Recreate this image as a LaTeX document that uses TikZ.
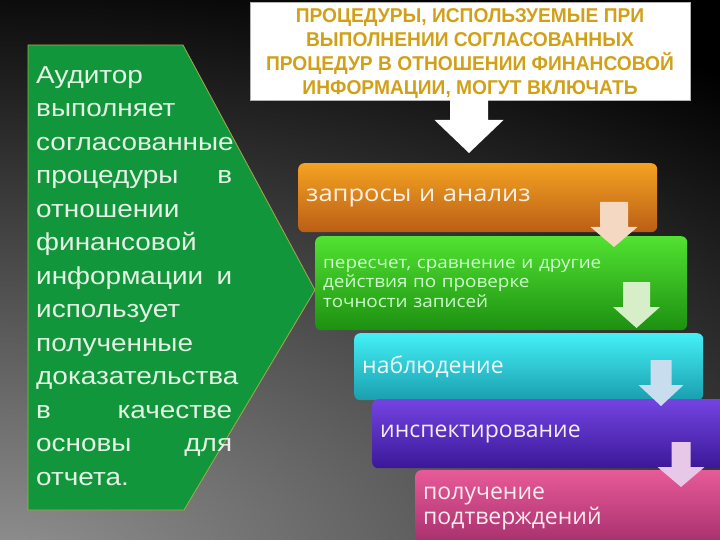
\documentclass[tikz,border=0pt]{standalone}
\usepackage{fontspec}
\setmainfont{Liberation Sans}
\newfontfamily\auditfont[FakeStretch=1.14]{Liberation Sans}
\newfontfamily\headfont[FakeStretch=0.96]{Liberation Sans}
\newfontfamily\boxfont{Open Sans}
\newfontfamily\boxwidefont[FakeStretch=1.11]{Open Sans}
\definecolor{auditgreen}{HTML}{12963C}
\definecolor{auditedge}{HTML}{A8A848}
\definecolor{audittext}{HTML}{E4F2E4}
\definecolor{titlegold}{HTML}{D2A017}
\definecolor{orangetop}{HTML}{F4A322}
\definecolor{orangebot}{HTML}{BA5E16}
\definecolor{greentop}{HTML}{52E232}
\definecolor{greenbot}{HTML}{1C9010}
\definecolor{cyantop}{HTML}{44F0F6}
\definecolor{cyanbot}{HTML}{1A9EAE}
\definecolor{violettop}{HTML}{7444E2}
\definecolor{violetbot}{HTML}{3A1898}
\definecolor{pinktop}{HTML}{E85A98}
\definecolor{pinkbot}{HTML}{A42E6C}
\definecolor{arrowpeach}{HTML}{F4D8C2}
\definecolor{arrowmint}{HTML}{D6EFC8}
\definecolor{arrowsky}{HTML}{C8DEEE}
\definecolor{arrowlilac}{HTML}{E8C8E8}

\tikzset{
  procbox/.style={rounded corners=6pt, anchor=north west, inner xsep=8pt,
    inner ysep=0pt, align=left, font=\boxfont\fontsize{23}{26}\selectfont},
  titlebox/.style={anchor=north west, fill=white, draw=gray!60, inner sep=0pt},
  titletext/.style={inner sep=0pt, align=center, text=titlegold,
    font=\headfont\bfseries\fontsize{20}{24}\selectfont},
}

% cx, top, shaft half width, head half width, neck, tip, colour
\newcommand{\downarrowblock}[7]{%
  \fill[#7] ({#1-#3},#2) -- ({#1+#3},#2) -- ({#1+#3},#5) -- ({#1+#4},#5)
    -- (#1,#6) -- ({#1-#4},#5) -- ({#1-#3},#5) -- cycle;}

\begin{document}
\begin{tikzpicture}[x=1pt,y=-1pt]
  % background
  \fill[black] (0,0) rectangle (720,540);
  \begin{scope}
    \clip (0,0) rectangle (720,540);
    \shade[inner color=gray!85, outer color=black] (0,570) ellipse [x radius=1200, y radius=620];
  \end{scope}
  \useasboundingbox (0,0) rectangle (720,540);

  % left panel
  \draw[fill=auditgreen, draw=auditedge, line width=0.8pt]
    (28,45) -- (183,45) -- (315,290) -- (184,510) -- (28,510) -- cycle;
  \node[anchor=north west, inner sep=0pt, text width=196pt, align=left,
    text=audittext, font=\auditfont\fontsize{24.5}{33.5}\selectfont] (auditor) at (36,66)
    {Аудитор\\
     выполняет\\
     согласованные\\
     процедуры\hfill в\\
     отношении\\
     финансовой\\
     информации\hfill и\\
     использует\\
     полученные\\
     доказательства\\
     в\hfill качестве\\
     основы\hfill для\\
     отчета.};

  % heading
  \node[titlebox, minimum width=440pt, minimum height=98pt] (title) at (250,2) {};
  \node[titletext] (titletext) at (470,54)
    {ПРОЦЕДУРЫ, ИСПОЛЬЗУЕМЫЕ ПРИ\\
     ВЫПОЛНЕНИИ СОГЛАСОВАННЫХ\\
     ПРОЦЕДУР В ОТНОШЕНИИ ФИНАНСОВОЙ\\
     ИНФОРМАЦИИ, МОГУТ ВКЛЮЧАТЬ};
  \downarrowblock{469}{100}{19}{34.5}{120}{153}{white}

  % steps
  \node[procbox, top color=orangetop, bottom color=orangebot, text=orange!10,
    text width=343pt, minimum height=69pt,
    font=\boxwidefont\fontsize{23}{26}\selectfont] (zapros) at (298,163) {запросы и анализ};
  \node[procbox, top color=greentop, bottom color=greenbot, text=green!20!white,
    text width=356pt, minimum height=94pt,
    font=\boxwidefont\fontsize{17}{19.5}\selectfont] (pereschet) at (315,236)
    {пересчет, сравнение и другие\\ действия по проверке\\ точности записей};
  \node[procbox, top color=cyantop, bottom color=cyanbot, text=cyan!8!white,
    text width=333pt, minimum height=67pt] (nabl) at (354,333) {наблюдение};
  \node[procbox, top color=violettop, bottom color=violetbot, text=violet!8!white,
    text width=344pt, minimum height=69pt] (inspekt) at (372,399) {инспектирование};
  \node[procbox, top color=pinktop, bottom color=pinkbot, text=pink!30!white,
    text width=304pt, minimum height=76pt, font=\boxfont\fontsize{23}{25}\selectfont]
    (poluch) at (415,470) {получение\\ подтверждений};

  % small arrows
  \downarrowblock{614}{202}{14}{23.5}{227}{247}{arrowpeach}
  \downarrowblock{636.5}{282}{13.5}{23.5}{307}{328}{arrowmint}
  \downarrowblock{661}{360}{10.5}{22.5}{385}{406}{arrowsky}
  \downarrowblock{681}{442}{9.5}{23.5}{467}{487}{arrowlilac}
\end{tikzpicture}
\end{document}
